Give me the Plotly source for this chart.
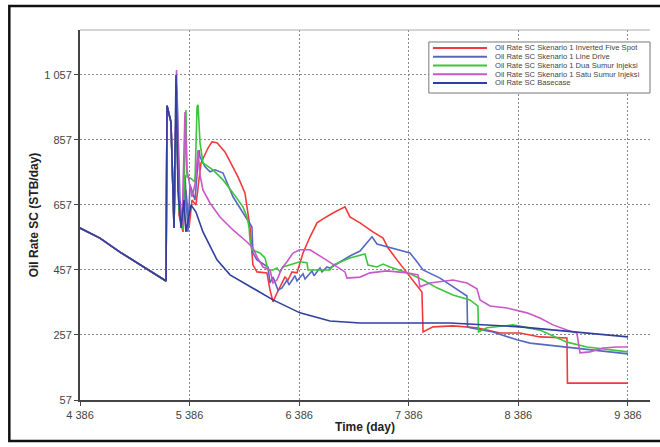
import plotly.graph_objects as go

# ---- data (day, STB/day) ----
hist_day = [4386, 4568, 4751, 4979, 5171, 5180, 5216]
hist_rate = [586, 555, 512, 463, 423, 962, 912]

base_day = [5244, 5262, 5280, 5308, 5335, 5353, 5399, 5444, 5508, 5636, 5755, 5937,
            6147, 6393, 6667, 6941, 7762, 8401, 8948, 9386]
base_rate = [586, 1057, 703, 586, 672, 574, 657, 635, 574, 488, 442, 405,
             365, 325, 300, 294, 294, 282, 266, 251]

line_day = [5244, 5271, 5298, 5326, 5344, 5371, 5390, 5435, 5472, 5481, 5527, 5572,
            5618, 5691, 5782, 5910, 5955, 5964, 6001, 6101, 6120, 6147, 6193, 6229,
            6275, 6293, 6348, 6366, 6421, 6439, 6503, 6521, 6576, 6594, 6640, 6667,
            6849, 6941, 7050, 7096, 7196, 7397, 7461, 7516, 7671, 7881, 7917, 7922,
            7944, 8154, 8373, 8492, 8948, 9386]
line_rate = [595, 1011, 672, 580, 749, 574, 719, 672, 826, 805, 774, 759,
             765, 755, 682, 611, 589, 509, 488, 466, 417, 435, 395, 402,
             426, 411, 439, 423, 445, 429, 454, 439, 463, 451, 466, 463,
             500, 515, 559, 537, 528, 509, 482, 457, 432, 386, 377, 282,
             279, 266, 242, 232, 214, 199]

five_day = [5244, 5267, 5289, 5326, 5353, 5381, 5408, 5444, 5490, 5554, 5590, 5636,
            5709, 5773, 5828, 5891, 5919, 5937, 5955, 5964, 6001, 6092, 6120, 6147,
            6183, 6229, 6256, 6284, 6320, 6366, 6421, 6485, 6549, 6603, 6694, 6804,
            6849, 6941, 7059, 7151, 7196, 7278, 7370, 7461, 7506, 7516, 7607, 7789,
            8008, 8218, 8401, 8583, 8829, 8834, 9386]
five_rate = [592, 1026, 626, 574, 703, 586, 672, 657, 786, 832, 851, 848,
             820, 780, 743, 694, 632, 589, 509, 472, 451, 448, 395, 359,
             386, 417, 435, 426, 451, 448, 509, 559, 602, 614, 632, 651,
             620, 602, 574, 555, 525, 488, 448, 411, 389, 266, 282, 285,
             279, 263, 263, 251, 248, 109, 109]

dua_day = [5244, 5262, 5289, 5326, 5353, 5362, 5390, 5435, 5454, 5463, 5481, 5508,
           5599, 5691, 5782, 5873, 5910, 5928, 5937, 5955, 6028, 6074, 6101, 6147,
           6183, 6211, 6238, 6302, 6393, 6457, 6467, 6667, 6694, 6849, 6986, 7014,
           7096, 7151, 7214, 7397, 7516, 7643, 7789, 7944, 8017, 8022, 8099, 8337,
           8583, 8829, 9012, 9386]
dua_rate = [586, 949, 642, 580, 949, 743, 740, 728, 959, 965, 848, 786,
            765, 734, 694, 651, 620, 589, 549, 519, 509, 494, 457, 457,
            463, 451, 466, 472, 482, 479, 457, 457, 472, 494, 506, 472,
            466, 475, 466, 445, 426, 402, 380, 365, 346, 266, 279, 288,
            272, 235, 220, 205]

satu_day = [5244, 5267, 5289, 5317, 5344, 5362, 5408, 5435, 5463, 5481, 5508, 5572,
            5663, 5782, 5910, 5964, 6001, 6056, 6120, 6147, 6183, 6229, 6275, 6329,
            6393, 6485, 6603, 6731, 6804, 6822, 6941, 7032, 7187, 7370, 7470, 7488,
            7579, 7789, 7917, 8008, 8036, 8127, 8282, 8464, 8583, 8702, 8829, 8920,
            8948, 9039, 9158, 9286, 9386]
satu_rate = [586, 1072, 672, 595, 943, 765, 682, 719, 826, 749, 703, 663,
             620, 580, 543, 525, 497, 466, 457, 417, 426, 463, 482, 509,
             519, 519, 494, 466, 451, 432, 435, 448, 454, 448, 442, 405,
             417, 426, 417, 399, 365, 346, 340, 325, 309, 288, 272, 263,
             202, 205, 217, 220, 220]

series_names = ["Oil Rate SC Skenario 1 Inverted Five Spot",
                "Oil Rate SC Skenario 1 Line Drive",
                "Oil Rate SC Skenario 1 Dua Sumur Injeksi",
                "Oil Rate SC Skenario 1 Satu Sumur Injeksi",
                "Oil Rate SC Basecase"]
series_days = [five_day, line_day, dua_day, satu_day, base_day]
series_rates = [five_rate, line_rate, dua_rate, satu_rate, base_rate]
series_colors = ["#f23a3a", "#5468c4", "#3dc43d", "#c957c9", "#2f3f9e"]

tick_x = [4386, 5386, 6386, 7386, 8386, 9386]
tick_x_text = ["4 386", "5 386", "6 386", "7 386", "8 386", "9 386"]
tick_y = [57, 257, 457, 657, 857, 1057]
tick_y_text = ["57", "257", "457", "657", "857", "1 057"]

fig = go.Figure()
for name, d, r, c in zip(series_names, series_days, series_rates, series_colors):
    fig.add_trace(go.Scatter(x=hist_day + d, y=hist_rate + r, mode="lines", name=name,
                             line=dict(color=c, width=1.6), showlegend=False))

fig.update_layout(
    width=660, height=447,
    margin=dict(l=80, r=10, t=30, b=47, autoexpand=False),
    paper_bgcolor="white", plot_bgcolor="white",
    font=dict(family="Liberation Sans, Arial, sans-serif", color="#333"),
    showlegend=False,
)
fig.update_xaxes(
    range=[4386, 9587], tickvals=tick_x, ticktext=tick_x_text, automargin=False,
    showgrid=True, gridcolor="#8a8a8a", griddash="2px,2px", gridwidth=1,
    showline=True, linecolor="#444", linewidth=2, ticks="outside", ticklen=4,
    tickcolor="#444", tickfont=dict(size=11, color="#444"), zeroline=False,
    title=dict(text="<b>Time (day)</b>", font=dict(size=12, color="#222"), standoff=2),
)
fig.update_yaxes(
    range=[57, 1195], tickvals=tick_y, ticktext=tick_y_text, automargin=False,
    showgrid=True, gridcolor="#8a8a8a", griddash="2px,2px", gridwidth=1,
    showline=True, linecolor="#444", linewidth=2, ticks="outside", ticklen=4,
    tickcolor="#444", tickfont=dict(size=11, color="#444"), zeroline=False,
    title=dict(text="<b>Oil Rate SC (STB/day)</b>", font=dict(size=12, color="#222"), standoff=3),
)
# top border of the plot area
fig.add_shape(type="line", xref="paper", yref="paper", x0=0, x1=1, y0=1, y1=1,
              line=dict(color="#aaa", width=1))
# outer figure frame
fig.add_shape(type="rect", xref="paper", yref="paper", x0=-0.124, x1=1.02, y0=-0.111, y1=1.065,
              line=dict(color="#111", width=2.5), layer="above")

# compact legend box (drawn in paper coordinates)
lx0, lx1, ly0, ly1 = 0.612, 1.0, 0.8297, 0.9676
fig.add_shape(type="rect", xref="paper", yref="paper", x0=lx0, x1=lx1, y0=ly0, y1=ly1,
              line=dict(color="#777", width=1), fillcolor="white", layer="above")
entry_y = [0.9514, 0.9278, 0.9041, 0.8805, 0.8568]
for name, c, yy in zip(series_names, series_colors, entry_y):
    fig.add_shape(type="line", xref="paper", yref="paper", x0=0.6193, x1=0.714, y0=yy, y1=yy,
                  line=dict(color=c, width=2), layer="above")
    fig.add_annotation(xref="paper", yref="paper", x=0.7246, y=yy, text=name, showarrow=False,
                       xanchor="left", yanchor="middle", font=dict(size=7.6, color="#444"))

fig.write_html("out.html", config={"displayModeBar": False},
               post_script="document.body.style.margin='0';")
